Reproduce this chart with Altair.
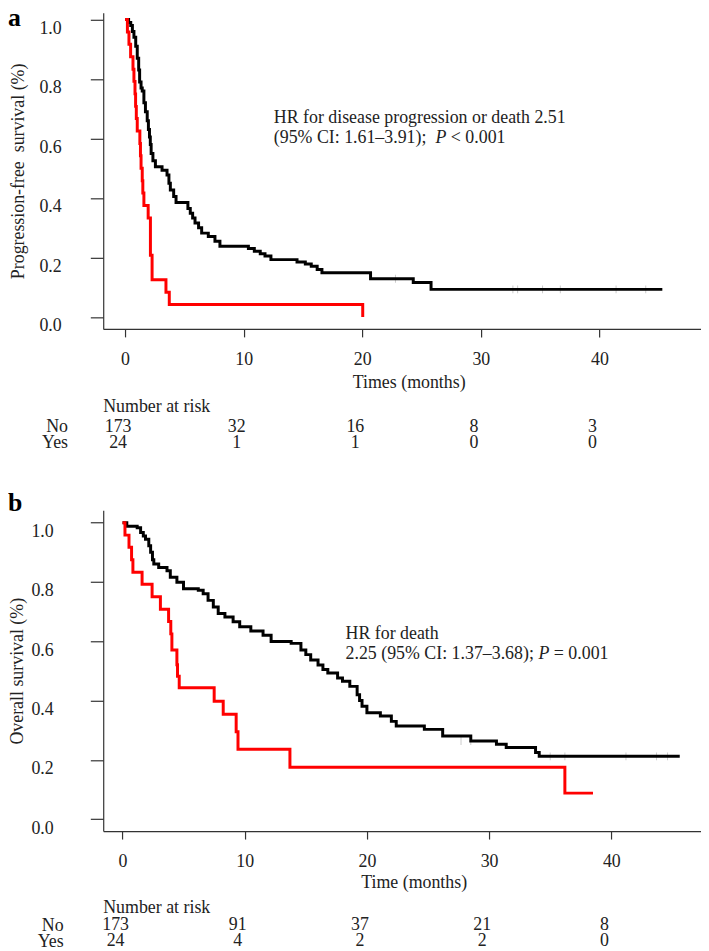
import altair as alt
import pandas as pd

FONT = "Liberation Serif"
TXT = "#222222"
AXC = "#333333"

# ---------------- data ----------------
tick_t = [0, 10, 20, 30, 40]
tick_s = [0.0, 0.2, 0.4, 0.6, 0.8, 1.0]

# Panel a : progression-free survival (No = black, Yes = red)
pfs_no_t = [0, 0.3, 0.48, 0.62, 0.75, 0.9, 1.03, 1.15, 1.23, 1.35, 1.45, 1.59, 1.72, 1.87,
            1.97, 2.06, 2.13, 2.2, 2.35, 2.56, 3.12, 3.54, 3.7, 3.82, 4.1, 4.3, 5.3, 5.5,
            5.7, 5.9, 6.2, 6.46, 7.02, 7.58, 8.0, 10.4, 10.9, 11.4, 11.8, 12.3, 14.5, 15.2,
            15.7, 16.2, 16.6, 20.7, 24.3, 25.8, 45.3]
pfs_no_s = [1.0, 0.99, 0.98, 0.96, 0.94, 0.91, 0.87, 0.83, 0.79, 0.77, 0.76, 0.72, 0.69, 0.66,
            0.63, 0.605, 0.58, 0.55, 0.525, 0.505, 0.493, 0.477, 0.45, 0.427, 0.405, 0.385, 0.365, 0.349,
            0.333, 0.316, 0.3, 0.282, 0.271, 0.255, 0.238, 0.23, 0.221, 0.213, 0.205, 0.193, 0.185, 0.178,
            0.171, 0.16, 0.149, 0.129, 0.116, 0.093, 0.093]
pfs_yes_t = [0, 0.2, 0.33, 0.47, 0.67, 0.75, 0.84, 0.89, 0.95, 1.03, 1.25, 1.3, 1.35, 1.45,
             1.5, 1.59, 1.95, 2.14, 2.28, 3.45, 3.73, 20.04]
pfs_yes_s = [1.0, 0.958, 0.917, 0.875, 0.833, 0.792, 0.75, 0.708, 0.667, 0.625, 0.583, 0.542, 0.5, 0.458,
             0.417, 0.375, 0.333, 0.208, 0.125, 0.083, 0.042, 0.0]
pfs_cens_t = [22.8, 32.7, 33.1, 35.2, 36.7, 41.4, 43.9]
pfs_cens_s = [0.129, 0.093, 0.093, 0.093, 0.093, 0.093, 0.093]

# Panel b : overall survival
os_no_t = [0, 0.35, 1.2, 1.48, 1.7, 1.88, 2.15, 2.3, 2.45, 2.56, 2.96, 3.64, 3.91, 4.45, 4.99,
           6.2, 6.6, 7.0, 7.43, 7.83, 8.38, 9.05, 9.59, 10.5, 11.5, 12.16, 13.8, 14.6, 15.0,
           15.4, 16.0, 16.4, 16.8, 17.6, 18.0, 18.6, 19.2, 19.4, 19.6, 20.0, 21.1, 22.0, 22.4,
           24.7, 26.2, 28.5, 30.6, 31.4, 33.8, 34.1, 45.6]
os_no_s = [1.0, 0.988, 0.983, 0.967, 0.955, 0.944, 0.922, 0.9, 0.875, 0.861, 0.849, 0.838, 0.816, 0.799, 0.777,
           0.772, 0.76, 0.738, 0.716, 0.694, 0.682, 0.666, 0.649, 0.635, 0.62, 0.599, 0.593, 0.571, 0.555,
           0.537, 0.52, 0.505, 0.493, 0.476, 0.465, 0.448, 0.42, 0.40, 0.381, 0.359, 0.348, 0.33, 0.314,
           0.303, 0.281, 0.264, 0.253, 0.242, 0.225, 0.212, 0.212]
os_yes_t = [0, 0.2, 0.53, 0.74, 0.85, 1.6, 2.42, 3.1, 3.77, 3.95, 4.04, 4.45, 4.5, 4.64, 7.5,
            8.24, 9.3, 9.45, 13.7, 36.2, 38.5]
os_yes_s = [1.0, 0.958, 0.917, 0.875, 0.833, 0.792, 0.75, 0.708, 0.667, 0.625, 0.571, 0.521, 0.482, 0.443, 0.398,
            0.354, 0.295, 0.236, 0.175, 0.088, 0.088]
os_cens_t = [27.7, 28.5, 35.0, 36.2, 41.2, 43.7, 44.6]
os_cens_s = [0.264, 0.264, 0.212, 0.212, 0.212, 0.212, 0.212]

risk_groups = ["No", "Yes"]
risk_a_no = [173, 32, 16, 8, 3]
risk_a_yes = [24, 1, 1, 0, 0]
risk_b_no = [173, 91, 37, 21, 8]
risk_b_yes = [24, 4, 2, 2, 0]

W = 602.7


def km_panel(no_t, no_s, yes_t, yes_s, cens_t, cens_s, letter, letter_y,
             ann_t, ann_s1, ann_s2, line1, line2, p_dx, rest, rest_dx,
             xdom, ydom, h, ytitle, xtitle, ylab_pad, ytitle_pad, xtitle_pad, xtitle_x):
    x = alt.X("t:Q", scale=alt.Scale(domain=xdom, nice=False, zero=False),
              axis=alt.Axis(values=tick_t, format="d", title=xtitle, tickSize=8,
                            labelPadding=13.5, titlePadding=xtitle_pad, titleX=xtitle_x,
                            labelFlush=False))
    y = alt.Y("s:Q", scale=alt.Scale(domain=ydom, nice=False, zero=False),
              axis=alt.Axis(values=tick_s, format=".1f", title=ytitle, tickSize=13,
                            labelPadding=ylab_pad, labelBaseline="top",
                            titlePadding=ytitle_pad))
    cens = alt.Chart(pd.DataFrame({"t": cens_t, "s": cens_s})).mark_tick(
        orient="vertical", size=8, thickness=1, color="#b5b5b5").encode(x=x, y=y)
    black = alt.Chart(pd.DataFrame({"t": no_t, "s": no_s})).mark_line(
        interpolate="step-after", color="#000000", strokeWidth=3).encode(x=x, y=y)
    red = alt.Chart(pd.DataFrame({"t": yes_t, "s": yes_s})).mark_line(
        interpolate="step-after", color="#ff0000", strokeWidth=3).encode(x=x, y=y)
    ann = pd.DataFrame({"t": [ann_t, ann_t], "s": [ann_s1, ann_s2], "txt": [line1, line2]})
    t_main = alt.Chart(ann).mark_text(align="left", baseline="alphabetic", font=FONT,
                                      fontSize=18, color=TXT).encode(x=x, y=y, text="txt:N")
    ann_p = pd.DataFrame({"t": [ann_t], "s": [ann_s2], "txt": ["P"]})
    t_p = alt.Chart(ann_p).mark_text(align="left", baseline="alphabetic", font=FONT,
                                     fontSize=18, fontStyle="italic", color=TXT,
                                     dx=p_dx).encode(x=x, y=y, text="txt:N")
    ann_r = pd.DataFrame({"t": [ann_t], "s": [ann_s2], "txt": [rest]})
    t_r = alt.Chart(ann_r).mark_text(align="left", baseline="alphabetic", font=FONT,
                                     fontSize=18, color=TXT,
                                     dx=rest_dx).encode(x=x, y=y, text="txt:N")
    lab = alt.Chart(pd.DataFrame({"lbl": [letter]})).mark_text(
        align="left", baseline="alphabetic", font=FONT, fontSize=26, fontWeight="bold",
        color="#000000").encode(x=alt.value(-96), y=alt.value(letter_y), text="lbl:N")
    return alt.layer(cens, black, red, t_main, t_p, t_r, lab).properties(width=W, height=h)


def risk_table(no_vals, yes_vals, xdom, h, align, lab_pad, head_y):
    rows = []
    for i, t in enumerate(tick_t):
        rows.append({"t": t, "g": "No", "n": no_vals[i]})
        rows.append({"t": t, "g": "Yes", "n": yes_vals[i]})
    df = pd.DataFrame(rows)
    nums = alt.Chart(df).mark_text(font=FONT, fontSize=18, color=TXT, dx=-7).encode(
        x=alt.X("t:Q", scale=alt.Scale(domain=xdom, nice=False, zero=False), axis=None),
        y=alt.Y("g:N", sort=risk_groups,
                scale=alt.Scale(type="point", padding=1, align=align),
                axis=alt.Axis(title=None, ticks=False, tickSize=0, domain=False,
                              labelPadding=lab_pad)),
        text="n:Q")
    head = alt.Chart(pd.DataFrame({"h": ["Number at risk"]})).mark_text(
        align="left", baseline="middle", font=FONT, fontSize=18, color=TXT).encode(
        x=alt.value(0), y=alt.value(head_y), text="h:N")
    return alt.layer(nums, head).properties(width=W, height=h)


xa = [-1.84, 48.56]
xb = [-1.58, 47.34]

pa = km_panel(pfs_no_t, pfs_no_s, pfs_yes_t, pfs_yes_s, pfs_cens_t, pfs_cens_s, "a", 13,
              12.54, 0.652, 0.586,
              "HR for disease progression or death 2.51", "(95% CI: 1.61\u20133.91);",
              163, "< 0.001", 178.5,
              xa, [-0.04, 1.0223], 318.7, "Progression-free\u00a0 survival (%)",
              "Times (months)", 29.3, 11.2, 5.8, 308)
ta = risk_table(risk_a_no, risk_a_yes, xa, 48, 0.969, 36, 11)

pb = km_panel(os_no_t, os_no_s, os_yes_t, os_yes_s, os_cens_t, os_cens_s, "b", 0.7,
              18.25, 0.608, 0.541,
              "HR for death", "2.25 (95% CI: 1.37\u20133.68);",
              194.5, "= 0.001", 210,
              xb, [-0.0401, 1.0415], 323.4, "Overall survival (%)",
              "Time (months)", 37.4, 4.8, 3.8, 313)
tb = risk_table(risk_b_no, risk_b_yes, xb, 48, 0.844, 40.4, 10)

chart = alt.vconcat(pa, ta, pb, tb, spacing=67.3, bounds="flush").properties(
    padding={"left": 0, "top": -7, "right": 0, "bottom": 0}
).configure_view(stroke=None).configure_axis(
    labelFont=FONT, labelFontSize=18, labelColor=TXT,
    titleFont=FONT, titleFontSize=18, titleFontWeight="normal", titleColor=TXT,
    domainColor=AXC, tickColor=AXC, domainWidth=1.2, tickWidth=1.2, grid=False
).configure_text(font=FONT)

chart.save("out.html", embed_options={"renderer": "svg", "actions": False})
